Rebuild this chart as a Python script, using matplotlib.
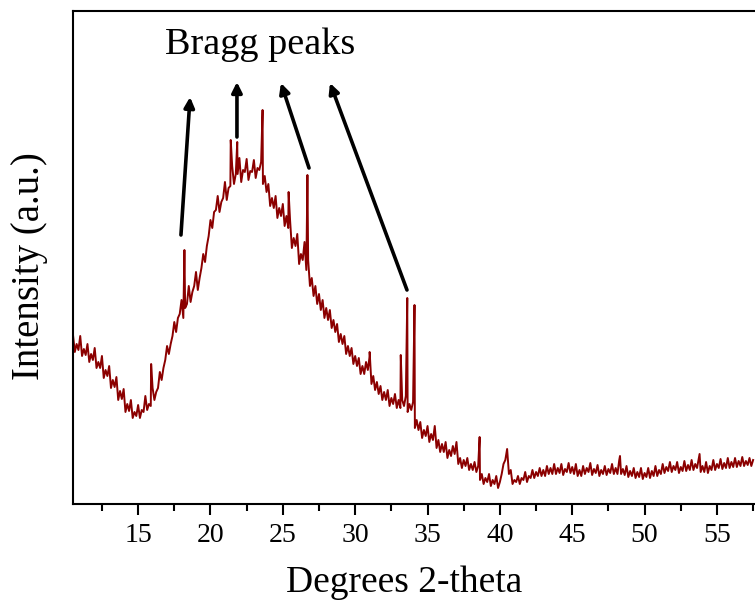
import numpy as np
import matplotlib.pyplot as plt

plt.rcParams["font.family"] = ["Liberation Serif", "DejaVu Serif"]

# scan grid, 0.25 deg steps (upper side of the noise band)
two_theta = np.arange(10.5, 57.51, 0.25)
intensity = [
    169, 160, 168, 155, 160, 150, 156, 142, 148, 134,   # 10.5 - 12.75
    138, 124, 127, 113, 115, 100, 104, 92, 99, 94,       # 13.0 - 15.25
    108, 100, 116, 112, 132, 136, 158, 160, 182, 186,    # 15.5 - 17.75
    204, 196, 218, 212, 232, 226, 250, 258, 284, 292,    # 18.0 - 20.25
    308, 302, 322, 316, 338, 330, 346, 334, 345, 333,    # 20.5 - 22.75
    344, 336, 342, 328, 320, 306, 308, 296, 300, 288,    # 23.0 - 25.25
    284, 266, 270, 250, 262, 244, 226, 218, 210, 204,    # 25.5 - 27.75
    196, 194, 184, 180, 170, 168, 158, 156, 148, 146,    # 28.0 - 30.25
    138, 142, 148, 128, 122, 118, 112, 114, 106, 110,    # 30.5 - 32.75
    104, 104, 108, 100, 102, 84, 82, 74, 78, 70,         # 33.0 - 35.25
    78, 64, 60, 62, 54, 58, 62, 46, 44, 46,              # 35.5 - 37.75
    40, 42, 38, 30, 26, 30, 24, 28, 22, 40,              # 38.0 - 40.25
    55, 34, 24, 28, 26, 32, 28, 34, 32, 36,              # 40.5 - 42.75
    34, 38, 36, 40, 36, 40, 35, 41, 37, 40,              # 43.0 - 45.25
    34, 38, 36, 41, 35, 39, 34, 38, 35, 40,              # 45.5 - 47.75
    36, 44, 35, 38, 33, 36, 32, 36, 31, 36,              # 48.0 - 50.25
    33, 38, 34, 40, 37, 42, 38, 42, 37, 43,              # 50.5 - 52.75
    39, 44, 40, 46, 38, 42, 38, 44, 40, 45,              # 53.0 - 55.25
    41, 46, 42, 46, 43, 47, 43, 46, 44,                  # 55.5 - 57.5
]
# readings half way between the grid points (lower side of the band)
two_theta_mid = np.arange(10.625, 57.4, 0.25)
intensity_mid = [
    152, 154, 148, 149, 142, 144, 136, 136, 126, 128,
    116, 117, 104, 105, 92, 93, 86, 88, 86, 92,
    94, 98, 104, 116, 124, 144, 150, 168, 172, 190,
    186, 200, 202, 218, 214, 236, 242, 268, 276, 294,
    292, 306, 304, 318, 320, 330, 322, 332, 324, 332,
    326, 334, 320, 312, 298, 296, 286, 288, 278, 276,
    256, 258, 240, 244, 234, 218, 208, 200, 194, 186,
    184, 176, 172, 162, 160, 150, 148, 140, 138, 130,
    130, 134, 120, 114, 110, 104, 104, 98, 100, 96,
    96, 98, 92, 94, 76, 74, 66, 68, 62, 64,
    56, 52, 52, 46, 48, 50, 40, 36, 38, 34,
    34, 32, 24, 20, 22, 18, 20, 16, 30, 44,
    30, 20, 22, 20, 24, 22, 26, 26, 28, 28,
    28, 30, 30, 30, 31, 29, 32, 31, 30, 28,
    28, 30, 32, 29, 31, 28, 30, 29, 31, 30,
    30, 30, 29, 27, 28, 26, 27, 25, 27, 26,
    28, 28, 30, 31, 33, 32, 34, 31, 33, 33,
    34, 34, 36, 32, 32, 31, 34, 34, 36, 35,
    36, 36, 37, 37, 38, 38, 39, 38,
]

# sharp Bragg reflections (position, height)
spike_pos = [15.9, 18.2, 21.4, 21.85, 23.6, 25.4, 26.7, 31.0, 33.15, 33.6, 34.1, 38.6, 48.3, 53.8]
spike_int = [140, 254, 364, 362, 394, 312, 329, 152, 149, 206, 199, 67, 48, 50]

# arrows: (tail x, tail y, head x, head y)
arrows = [
    (17.96, 269, 18.59, 407),
    (21.83, 367, 21.83, 422),
    (26.81, 336, 24.87, 421),
    (33.58, 214, 28.26, 421),
]


def main():
    x = np.concatenate([two_theta, two_theta_mid, spike_pos])
    y = np.concatenate([intensity, intensity_mid, spike_int])
    order = np.argsort(x)
    x, y = x[order], y[order]

    fig = plt.figure(figsize=(7.55, 6.03), dpi=100)
    ax = fig.add_axes([73 / 755, 1 - 504 / 603, 1 - 73 / 755, 493 / 603])
    ax.plot(x, y, color="#8b0000", linewidth=1.4)

    for tx, ty, hx, hy in arrows:
        ax.annotate("", xy=(hx, hy), xytext=(tx, ty),
                    arrowprops=dict(arrowstyle="-|>", color="black", lw=2.6,
                                    mutation_scale=15, shrinkA=0, shrinkB=0))
    ax.text(23.42, 459, "Bragg peaks", fontsize=27.5, ha="center", va="center")

    ax.set_xlim(10.5, 57.63)
    ax.set_ylim(0, 493)
    ax.set_xticks([15, 20, 25, 30, 35, 40, 45, 50, 55])
    ax.set_xticks(np.arange(12.5, 57.6, 5), minor=True)
    ax.set_yticks([])
    ax.tick_params(axis="x", which="major", length=8, width=1.5, labelsize=20, pad=6)
    ax.tick_params(axis="x", which="minor", length=5, width=1.5)
    for side in ["left", "bottom", "top"]:
        ax.spines[side].set_linewidth(1.5)
    ax.spines["right"].set_visible(False)

    ax.set_xlabel("Degrees 2-theta", fontsize=27)
    ax.set_ylabel("Intensity (a.u.)", fontsize=28)
    ax.xaxis.set_label_coords(0.485, -0.124)
    ax.yaxis.set_label_coords(-0.036, 0.483)
    fig.savefig("out.png", dpi=100)


if __name__ == "__main__":
    main()
